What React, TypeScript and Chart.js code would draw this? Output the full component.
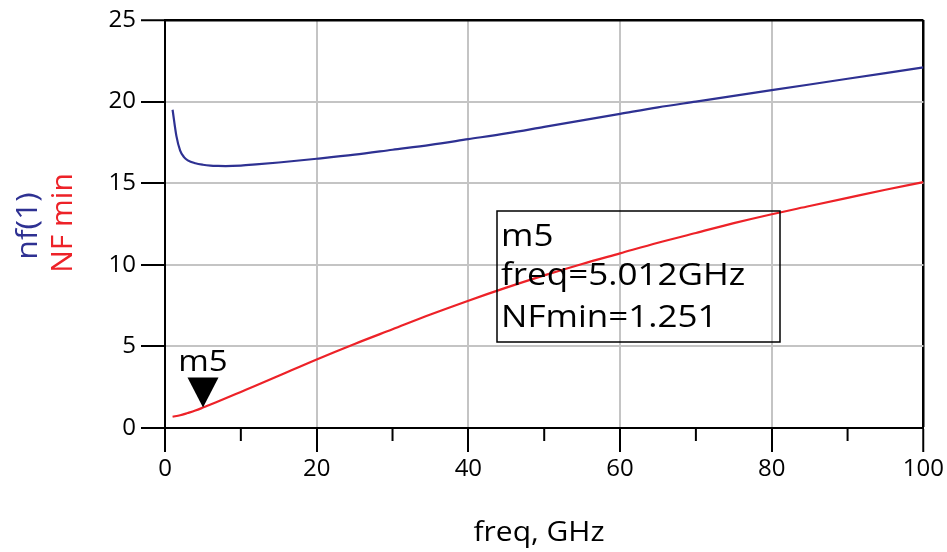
import { useEffect, useRef } from 'react';
import { Chart, registerables } from 'chart.js';

Chart.register(...registerables);

// nf(1) curve
const nfFreq = [1, 1.5, 2, 2.5, 3, 4, 5, 6, 7, 8, 10, 12, 15, 20, 25, 30, 35, 40, 45, 50, 55, 60, 65, 70, 75, 80, 85, 90, 95, 100];
const nfValues = [19.5, 17.9, 17.0, 16.6, 16.4, 16.22, 16.13, 16.08, 16.06, 16.05, 16.08, 16.15, 16.27, 16.5, 16.75, 17.05, 17.35, 17.7, 18.05, 18.45, 18.85, 19.25, 19.65, 20.0, 20.35, 20.7, 21.05, 21.4, 21.75, 22.1];

// NFmin curve
const nfminFreq = [1, 2, 3, 4, 5, 6, 8, 10, 12, 15, 20, 25, 30, 35, 40, 45, 50, 55, 60, 65, 70, 75, 80, 85, 90, 95, 100];
const nfminValues = [0.69, 0.78, 0.92, 1.07, 1.25, 1.44, 1.82, 2.21, 2.6, 3.2, 4.2, 5.15, 6.05, 6.95, 7.8, 8.6, 9.35, 10.05, 10.7, 11.35, 11.95, 12.55, 13.1, 13.6, 14.1, 14.6, 15.07];

const minorXTicks = [10, 30, 50, 70, 90];
const markerName = 'm5';
const markerFreq = 5.012;
const markerValue = 1.251;
const markerLines = ['m5', 'freq=5.012GHz', 'NFmin=1.251'];
const yTitleBlue = 'nf(1)';
const yTitleRed = 'NF min';
const xTitle = 'freq, GHz';

const FONT = '"Open Sans", "Noto Sans", sans-serif';
const BLUE = '#2e3192';
const RED = '#ed2228';
const GRID = '#c4c4c4';

function stretchedText(ctx: any, text: string, x: number, y: number, size: number, sx: number, rot = 0) {
  ctx.save();
  ctx.translate(x, y);
  if (rot) ctx.rotate(rot);
  ctx.scale(sx, 1);
  ctx.font = `${size}px ${FONT}`;
  ctx.fillText(text, 0, 0);
  ctx.restore();
}

const overlay = {
  id: 'overlay',
  afterDraw(chart: any) {
    const ctx = chart.ctx;
    const xs = chart.scales.x;
    const ys = chart.scales.y;
    const bottom = chart.chartArea.bottom;
    ctx.save();
    // minor ticks
    ctx.strokeStyle = '#000';
    ctx.lineWidth = 2;
    for (const v of minorXTicks) {
      const px = xs.getPixelForValue(v);
      ctx.beginPath();
      ctx.moveTo(px, bottom);
      ctx.lineTo(px, bottom + 13);
      ctx.stroke();
    }
    // y titles
    ctx.textAlign = 'center';
    ctx.textBaseline = 'alphabetic';
    ctx.fillStyle = BLUE;
    stretchedText(ctx, yTitleBlue, 37, 226, 29, 1.1, -Math.PI / 2);
    ctx.fillStyle = RED;
    stretchedText(ctx, yTitleRed, 72, 223, 30, 1.0, -Math.PI / 2);
    // x title
    ctx.fillStyle = '#000';
    stretchedText(ctx, xTitle, 539, 541, 28, 1.07);
    // marker
    const mx = xs.getPixelForValue(markerFreq);
    const my = ys.getPixelForValue(markerValue);
    ctx.beginPath();
    ctx.moveTo(mx, my);
    ctx.lineTo(mx - 15.5, my - 30);
    ctx.lineTo(mx + 15.5, my - 30);
    ctx.closePath();
    ctx.fill();
    stretchedText(ctx, markerName, mx, my - 37, 30, 1.1);
    // readout box
    ctx.lineWidth = 1.5;
    ctx.strokeStyle = '#000';
    ctx.strokeRect(497, 211, 283, 131);
    ctx.textAlign = 'left';
    stretchedText(ctx, markerLines[0], 501, 246, 31, 1.13);
    stretchedText(ctx, markerLines[1], 501, 285, 31, 1.13);
    stretchedText(ctx, markerLines[2], 501, 327, 31, 1.13);
    ctx.restore();
  },
};

export default function App() {
  const ref = useRef<HTMLCanvasElement>(null);
  useEffect(() => {
    document.body.style.margin = '0';
    const chart = new Chart(ref.current as HTMLCanvasElement, {
      type: 'line',
      data: {
        datasets: [
          {
            label: 'nf(1)',
            data: nfFreq.map((f, i) => ({ x: f, y: nfValues[i] })),
            borderColor: BLUE,
            borderWidth: 2.2,
            pointRadius: 0,
            cubicInterpolationMode: 'monotone',
          },
          {
            label: 'NF min',
            data: nfminFreq.map((f, i) => ({ x: f, y: nfminValues[i] })),
            borderColor: RED,
            borderWidth: 2.2,
            pointRadius: 0,
            cubicInterpolationMode: 'monotone',
          },
        ],
      },
      options: {
        animation: false,
        responsive: true,
        maintainAspectRatio: false,
        layout: { padding: { left: 0, right: 23, top: 20, bottom: 0 } },
        plugins: { legend: { display: false }, tooltip: { enabled: false } },
        scales: {
          x: {
            type: 'linear',
            min: 0,
            max: 100,
            ticks: { stepSize: 20, color: '#000', font: { size: 24, family: FONT }, padding: 3, maxRotation: 0 },
            grid: {
              color: (c: any) => (c.tick && c.tick.value === 100 ? '#000' : GRID),
              lineWidth: (c: any) => (c.tick && c.tick.value === 100 ? 2.5 : 2),
              tickColor: '#000',
              tickWidth: 2,
              tickLength: 24,
            },
            border: { color: '#000', width: 2 },
            afterFit: (s: any) => { s.height = 124; },
          },
          y: {
            min: 0,
            max: 25,
            ticks: { stepSize: 5, color: '#000', font: { size: 24, family: FONT }, padding: 5 },
            grid: {
              color: (c: any) => (c.tick && c.tick.value === 25 ? '#000' : GRID),
              lineWidth: (c: any) => (c.tick && c.tick.value === 25 ? 2.5 : 2),
              tickColor: '#000',
              tickWidth: 2,
              tickLength: 24,
            },
            border: { color: '#000', width: 2 },
            afterFit: (s: any) => { s.width = 165; },
          },
        },
      },
      plugins: [overlay],
    });
    return () => chart.destroy();
  }, []);
  return (
    <div style={{ position: 'absolute', left: 0, top: 0, width: 947, height: 552 }}>
      <canvas ref={ref} />
    </div>
  );
}
